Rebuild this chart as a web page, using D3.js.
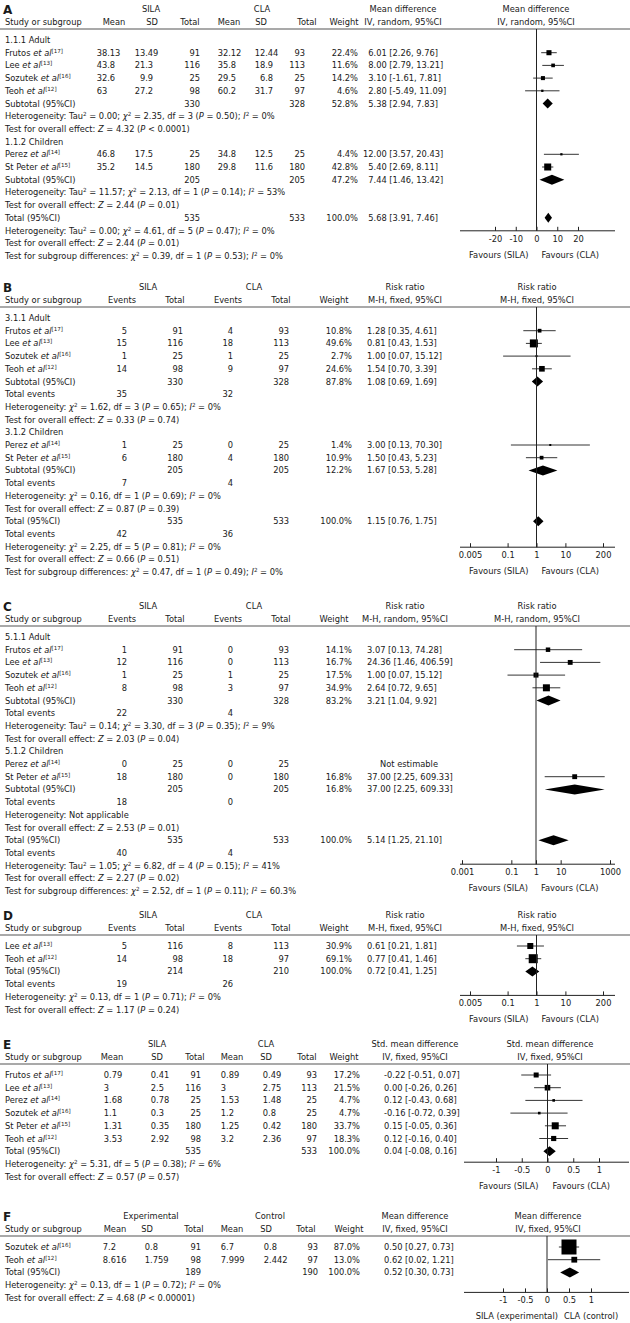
<!DOCTYPE html>
<html>
<head>
<meta charset="utf-8">
<script src="https://cdn.jsdelivr.net/npm/d3@7"></script>
<style>
  body { margin: 0; background: #fff; }
  svg text { font-family: "DejaVu Sans", Verdana, sans-serif; font-size: 8.3px; fill: #1a1a1a; }
  svg text.lbl { font-size: 12px; font-weight: bold; }
</style>
</head>
<body>
<div id="chart"></div>
<script>
// ---- data ----

// A: mean difference, IV random
// name, ref, SILA mean, SD, total, CLA mean, SD, total, weight, MD, lo, hi, subgroup
const studiesA = [
  ["Frutos", 17, 38.13, 13.49, 91, 32.12, 12.44, 93, 22.4, 6.01, 2.26, 9.76, 0],
  ["Lee", 13, 43.8, 21.3, 116, 35.8, 18.9, 113, 11.6, 8.00, 2.79, 13.21, 0],
  ["Sozutek", 16, 32.6, 9.9, 25, 29.5, 6.8, 25, 14.2, 3.10, -1.61, 7.81, 0],
  ["Teoh", 12, 63, 27.2, 98, 60.2, 31.7, 97, 4.6, 2.80, -5.49, 11.09, 0],
  ["Perez", 14, 46.8, 17.5, 25, 34.8, 12.5, 25, 4.4, 12.00, 3.57, 20.43, 1],
  ["St Peter", 15, 35.2, 14.5, 180, 29.8, 11.6, 180, 42.8, 5.40, 2.69, 8.11, 1]
];
const groupsA = ["1.1.1 Adult", "1.1.2 Children"];
const subtotalsA = [[330, 328, 52.8, 5.38, 2.94, 7.83], [205, 205, 47.2, 7.44, 1.46, 13.42]];
const subStatsA = [
  ["Heterogeneity: Tau^2 = 0.00; _χ_^2 = 2.35, df = 3 (_P_ = 0.50); _I_^2 = 0%",
   "Test for overall effect: _Z_ = 4.32 (_P_ < 0.0001)"],
  ["Heterogeneity: Tau^2 = 11.57; _χ_^2 = 2.13, df = 1 (_P_ = 0.14); _I_^2 = 53%",
   "Test for overall effect: _Z_ = 2.44 (_P_ = 0.01)"]
];
const totalA = [535, 533, 100.0, 5.68, 3.91, 7.46];
const totalStatsA = [
  "Heterogeneity: Tau^2 = 0.00; _χ_^2 = 4.61, df = 5 (_P_ = 0.47); _I_^2 = 0%",
  "Test for overall effect: _Z_ = 2.44 (_P_ = 0.01)",
  "Test for subgroup differences: _χ_^2 = 0.39, df = 1 (_P_ = 0.53); _I_^2 = 0%"
];
const ticksA = [-20, -10, 0, 10, 20];

// B: risk ratio, M-H fixed
// name, ref, SILA events, total, CLA events, total, weight, RR, lo, hi, subgroup
const studiesB = [
  ["Frutos", 17, 5, 91, 4, 93, 10.8, 1.28, 0.35, 4.61, 0],
  ["Lee", 13, 15, 116, 18, 113, 49.6, 0.81, 0.43, 1.53, 0],
  ["Sozutek", 16, 1, 25, 1, 25, 2.7, 1.00, 0.07, 15.12, 0],
  ["Teoh", 12, 14, 98, 9, 97, 24.6, 1.54, 0.70, 3.39, 0],
  ["Perez", 14, 1, 25, 0, 25, 1.4, 3.00, 0.13, 70.30, 1],
  ["St Peter", 15, 6, 180, 4, 180, 10.9, 1.50, 0.43, 5.23, 1]
];
const groupsB = ["3.1.1 Adult", "3.1.2 Children"];
const subtotalsB = [[330, 328, 87.8, 1.08, 0.69, 1.69], [205, 205, 12.2, 1.67, 0.53, 5.28]];
const subEventsB = [[35, 32], [7, 4]];
const subStatsB = [
  ["Heterogeneity: _χ_^2 = 1.62, df = 3 (_P_ = 0.65); _I_^2 = 0%",
   "Test for overall effect: _Z_ = 0.33 (_P_ = 0.74)"],
  ["Heterogeneity: _χ_^2 = 0.16, df = 1 (_P_ = 0.69); _I_^2 = 0%",
   "Test for overall effect: _Z_ = 0.87 (_P_ = 0.39)"]
];
const totalB = [535, 533, 100.0, 1.15, 0.76, 1.75];
const totalEventsB = [42, 36];
const totalStatsB = [
  "Heterogeneity: _χ_^2 = 2.25, df = 5 (_P_ = 0.81); _I_^2 = 0%",
  "Test for overall effect: _Z_ = 0.66 (_P_ = 0.51)",
  "Test for subgroup differences: _χ_^2 = 0.47, df = 1 (_P_ = 0.49); _I_^2 = 0%"
];
const ticksB = [0.005, 0.1, 1, 10, 200];

// C: risk ratio, M-H random
const studiesC = [
  ["Frutos", 17, 1, 91, 0, 93, 14.1, 3.07, 0.13, 74.28, 0],
  ["Lee", 13, 12, 116, 0, 113, 16.7, 24.36, 1.46, 406.59, 0],
  ["Sozutek", 16, 1, 25, 1, 25, 17.5, 1.00, 0.07, 15.12, 0],
  ["Teoh", 12, 8, 98, 3, 97, 34.9, 2.64, 0.72, 9.65, 0],
  ["Perez", 14, 0, 25, 0, 25, null, null, null, null, 1],
  ["St Peter", 15, 18, 180, 0, 180, 16.8, 37.00, 2.25, 609.33, 1]
];
const groupsC = ["5.1.1 Adult", "5.1.2 Children"];
const subtotalsC = [[330, 328, 83.2, 3.21, 1.04, 9.92], [205, 205, 16.8, 37.00, 2.25, 609.33]];
const subEventsC = [[22, 4], [18, 0]];
const subStatsC = [
  ["Heterogeneity: Tau^2 = 0.14; _χ_^2 = 3.30, df = 3 (_P_ = 0.35); _I_^2 = 9%",
   "Test for overall effect: _Z_ = 2.03 (_P_ = 0.04)"],
  ["Heterogeneity: Not applicable",
   "Test for overall effect: _Z_ = 2.53 (_P_ = 0.01)"]
];
const totalC = [535, 533, 100.0, 5.14, 1.25, 21.10];
const totalEventsC = [40, 4];
const totalStatsC = [
  "Heterogeneity: Tau^2 = 1.05; _χ_^2 = 6.82, df = 4 (_P_ = 0.15); _I_^2 = 41%",
  "Test for overall effect: _Z_ = 2.27 (_P_ = 0.02)",
  "Test for subgroup differences: _χ_^2 = 2.52, df = 1 (_P_ = 0.11); _I_^2 = 60.3%"
];
const ticksC = [0.001, 0.1, 1, 10, 1000];

// D: risk ratio, M-H fixed
const studiesD = [
  ["Lee", 13, 5, 116, 8, 113, 30.9, 0.61, 0.21, 1.81, 0],
  ["Teoh", 12, 14, 98, 18, 97, 69.1, 0.77, 0.41, 1.46, 0]
];
const totalD = [214, 210, 100.0, 0.72, 0.41, 1.25];
const totalEventsD = [19, 26];
const totalStatsD = [
  "Heterogeneity: _χ_^2 = 0.13, df = 1 (_P_ = 0.71); _I_^2 = 0%",
  "Test for overall effect: _Z_ = 1.17 (_P_ = 0.24)"
];
const ticksD = [0.005, 0.1, 1, 10, 200];

// E: std. mean difference, IV fixed
const studiesE = [
  ["Frutos", 17, 0.79, 0.41, 91, 0.89, 0.49, 93, 17.2, -0.22, -0.51, 0.07, 0],
  ["Lee", 13, 3, 2.5, 116, 3, 2.75, 113, 21.5, 0.00, -0.26, 0.26, 0],
  ["Perez", 14, 1.68, 0.78, 25, 1.53, 1.48, 25, 4.7, 0.12, -0.43, 0.68, 0],
  ["Sozutek", 16, 1.1, 0.3, 25, 1.2, 0.8, 25, 4.7, -0.16, -0.72, 0.39, 0],
  ["St Peter", 15, 1.31, 0.35, 180, 1.25, 0.42, 180, 33.7, 0.15, -0.05, 0.36, 0],
  ["Teoh", 12, 3.53, 2.92, 98, 3.2, 2.36, 97, 18.3, 0.12, -0.16, 0.40, 0]
];
const totalE = [535, 533, 100.0, 0.04, -0.08, 0.16];
const totalStatsE = [
  "Heterogeneity: _χ_^2 = 5.31, df = 5 (_P_ = 0.38); _I_^2 = 6%",
  "Test for overall effect: _Z_ = 0.57 (_P_ = 0.57)"
];
const ticksE = [-1, -0.5, 0, 0.5, 1];

// F: mean difference, IV fixed
const studiesF = [
  ["Sozutek", 16, 7.2, 0.8, 91, 6.7, 0.8, 93, 87.0, 0.50, 0.27, 0.73, 0],
  ["Teoh", 12, 8.616, 1.759, 98, 7.999, 2.442, 97, 13.0, 0.62, 0.02, 1.21, 0]
];
const totalF = [189, 190, 100.0, 0.52, 0.30, 0.73];
const totalStatsF = [
  "Heterogeneity: _χ_^2 = 0.13, df = 1 (_P_ = 0.72); _I_^2 = 0%",
  "Test for overall effect: _Z_ = 4.68 (_P_ < 0.00001)"
];
const ticksF = [-1, -0.5, 0, 0.5, 1];

// ---- layout ----
const ROW = 12.7;
const svg = d3.select("#chart").append("svg")
  .attr("width", 630)
  .attr("height", 1323);

const contCols = [[107.2, "dec"], [145.2, "dec"], [200, "end"], [228.2, "dec"], [265.2, "dec"], [305, "end"]];
const binCols = [[127, "end"], [183, "end"], [233, "end"], [289, "end"]];
const binHeads = [["Events", 122], ["Total", 175], ["Events", 228], ["Total", 281], ["Weight", 334]];

// turn "_x_" into italics and "^2" / "^{..}" into superscripts
function rich(text, str) {
  let up = false;
  str.split(/(_[^_]+_|\^\{[^}]*\}|\^.)/).filter(s => s).forEach(p => {
    const ts = text.append("tspan");
    if (p[0] === "^") {
      ts.attr("dy", -3).style("font-size", "5.6px").text(p[1] === "{" ? p.slice(2, -1) : p.slice(1));
      up = true;
      return;
    }
    if (up) { ts.attr("dy", 3); up = false; }
    if (p[0] === "_") ts.style("font-style", "italic").text(p.slice(1, -1));
    else ts.text(p);
  });
}

function decText(g, x, y, v) {
  const s = String(v);
  const t = g.append("text").attr("y", y).text(s);
  const i = s.indexOf(".");
  const w = t.node().getSubStringLength(0, i < 0 ? s.length : i);
  t.attr("x", x - w);
}

function buildRows(P) {
  const rows = [];
  const groups = P.groups.length ? P.groups : [null];
  groups.forEach((name, gi) => {
    if (name) rows.push({ type: "group", text: name });
    P.studies.filter(s => s.g === gi).forEach(s => rows.push(Object.assign({ type: "study" }, s)));
    if (P.subtotals) {
      rows.push({ type: "pooled", label: "Subtotal (95%CI)", v: P.subtotals[gi] });
      if (P.subEvents) rows.push({ type: "events", v: P.subEvents[gi] });
      P.subStats[gi].forEach(t => rows.push({ type: "note", text: t }));
    }
  });
  rows.push({ type: "pooled", label: "Total (95%CI)", v: P.total });
  if (P.totalEvents) rows.push({ type: "events", v: P.totalEvents });
  P.totalStats.forEach(t => rows.push({ type: "note", text: t }));
  return rows;
}

const contStudy = r => ({ name: r[0], ref: r[1], cells: r.slice(2, 8), w: r[8], est: r[9], lo: r[10], hi: r[11], g: r[12] });
const binStudy = r => ({ name: r[0], ref: r[1], cells: r.slice(2, 6), w: r[6], est: r[7], lo: r[8], hi: r[9], g: r[10] });

function drawPanel(L, P) {
  const g = svg.append("g");
  const first = L.y0 + 31;
  const lineY = L.y0 + 20;
  const base = 3;

  g.append("text").attr("class", "lbl").attr("x", 3).attr("y", L.y0 + 5).text(L.label);
  L.heads.forEach(h => g.append("text").attr("x", h[1]).attr("y", L.y0 + base)
    .attr("text-anchor", "middle").text(h[0]));
  g.append("text").attr("x", 5).attr("y", L.y0 + 12.5 + base).text("Study or subgroup");
  L.colHeads.forEach(h => g.append("text").attr("x", h[1]).attr("y", L.y0 + 12.5 + base)
    .attr("text-anchor", "middle").text(h[0]));
  [L.effCenter, L.plotCenter].forEach(cx => {
    L.effHead.forEach((t, i) => g.append("text").attr("x", cx).attr("y", L.y0 + i * 12.5 + base)
      .attr("text-anchor", "middle").text(t));
  });
  g.append("line").attr("x1", 0).attr("x2", 630).attr("y1", lineY).attr("y2", lineY)
    .attr("stroke", "#8c8c8c").attr("stroke-width", 1.3);

  const x = (L.log ? d3.scaleLog() : d3.scaleLinear()).domain(L.domain).range(L.range);
  const size = d3.scaleSqrt()
    .domain([0, d3.max(P.studies, s => s.w)])
    .range([0, L.maxSide]);

  const rows = buildRows(P);
  let totalY = 0;
  rows.forEach((r, i) => {
    const y = first + i * ROW;
    const ty = y + base;
    if (r.type === "group" || r.type === "note") {
      rich(g.append("text").attr("x", 5).attr("y", ty), r.text);
      return;
    }
    if (r.type === "events") {
      g.append("text").attr("x", 5).attr("y", ty).text("Total events");
      r.v.forEach((v, k) => g.append("text").attr("x", L.eCols[k]).attr("y", ty)
        .attr("text-anchor", "end").text(v));
      return;
    }
    let est, lo, hi, w;
    if (r.type === "study") {
      rich(g.append("text").attr("x", 5).attr("y", ty), `${r.name} _et al_^{[${r.ref}]}`);
      r.cells.forEach((v, k) => {
        const c = L.cols[k];
        if (c[1] === "dec") decText(g, c[0], ty, v);
        else g.append("text").attr("x", c[0]).attr("y", ty).attr("text-anchor", "end").text(v);
      });
      ({ est, lo, hi, w } = r);
    } else {
      g.append("text").attr("x", 5).attr("y", ty).text(r.label);
      [r.v[0], r.v[1]].forEach((v, k) => g.append("text").attr("x", L.nCols[k]).attr("y", ty)
        .attr("text-anchor", "end").text(v));
      [, , w, est, lo, hi] = r.v;
      if (r.label.startsWith("Total")) totalY = y;
    }
    if (est === null) {
      g.append("text").attr("x", L.effCenter + 4).attr("y", ty).attr("text-anchor", "middle").text("Not estimable");
      return;
    }
    g.append("text").attr("x", L.wCol).attr("y", ty).attr("text-anchor", "end").text(w.toFixed(1) + "%");
    const eff = `${est.toFixed(2)} [${lo.toFixed(2)}, ${hi.toFixed(2)}]`;
    if (L.effDec) decText(g, L.effX, ty, eff);
    else g.append("text").attr("x", L.effX).attr("y", ty).text(eff);

    if (r.type === "study") {
      g.append("line").attr("x1", x(lo)).attr("x2", x(hi)).attr("y1", y).attr("y2", y)
        .attr("stroke", "#000").attr("stroke-width", 0.8);
      const s = Math.max(2, size(w));
      g.append("rect").attr("x", x(est) - s / 2).attr("y", y - s / 2)
        .attr("width", s).attr("height", s).attr("fill", "#000");
    } else {
      const h = 5;
      g.append("path")
        .attr("d", `M${x(lo)},${y}L${x(est)},${y - h}L${x(hi)},${y}L${x(est)},${y + h}Z`)
        .attr("fill", "#000");
    }
  });

  // axis
  const axisY = totalY + L.axisGap;
  const zero = x(L.log ? 1 : 0);
  g.append("line").attr("x1", zero).attr("x2", zero).attr("y1", lineY).attr("y2", axisY)
    .attr("stroke", "#222").attr("stroke-width", 1);
  g.append("line").attr("x1", L.axisLine[0]).attr("x2", L.axisLine[1]).attr("y1", axisY).attr("y2", axisY)
    .attr("stroke", "#222").attr("stroke-width", 1);
  const ax = g.append("g").attr("transform", `translate(0,${axisY})`)
    .call(d3.axisBottom(x).tickValues(L.ticks).tickSizeInner(-4).tickSizeOuter(0).tickPadding(5)
      .tickFormat(d => String(d)));
  ax.select(".domain").remove();
  ax.attr("font-family", null).attr("font-size", null);
  ax.selectAll("text").attr("fill", null);
  ax.selectAll("line").attr("stroke", "#222");
  L.favours.forEach(f => g.append("text").attr("x", zero + f[2]).attr("y", axisY + 24 + base)
    .attr("text-anchor", f[1]).text(f[0]));
}

drawPanel({
  label: "A", y0: 9,
  heads: [["SILA", 151], ["CLA", 262]],
  colHeads: [["Mean", 114], ["SD", 152], ["Total", 190], ["Mean", 229], ["SD", 261], ["Total", 307], ["Weight", 344]],
  effHead: ["Mean difference", "IV, random, 95%CI"], effCenter: 403, plotCenter: 536,
  cols: contCols, nCols: [200, 305], wCol: 358, effX: 373.5, effDec: true,
  log: false, domain: [-20, 20], range: [495, 578], axisLine: [460, 615], ticks: ticksA,
  maxSide: 7, axisGap: 13,
  favours: [["Favours (SILA)", "end", -8], ["Favours (CLA)", "start", 5]]
}, {
  studies: studiesA.map(contStudy), groups: groupsA, subtotals: subtotalsA, subStats: subStatsA,
  total: totalA, totalStats: totalStatsA
});

drawPanel({
  label: "B", y0: 287,
  heads: [["SILA", 148], ["CLA", 254]],
  colHeads: binHeads,
  effHead: ["Risk ratio", "M-H, fixed, 95%CI"], effCenter: 405, plotCenter: 537,
  cols: binCols, nCols: [183, 289], eCols: [127, 233], wCol: 352, effX: 367,
  log: true, domain: [0.005, 200], range: [470, 603], axisLine: [460, 615], ticks: ticksB,
  maxSide: 8, axisGap: 26,
  favours: [["Favours (SILA)", "end", -8], ["Favours (CLA)", "start", 5]]
}, {
  studies: studiesB.map(binStudy), groups: groupsB, subtotals: subtotalsB, subEvents: subEventsB,
  subStats: subStatsB, total: totalB, totalEvents: totalEventsB, totalStats: totalStatsB
});

drawPanel({
  label: "C", y0: 606,
  heads: [["SILA", 148], ["CLA", 254]],
  colHeads: binHeads,
  effHead: ["Risk ratio", "M-H, random, 95%CI"], effCenter: 405, plotCenter: 537,
  cols: binCols, nCols: [183, 289], eCols: [127, 233], wCol: 352, effX: 367,
  log: true, domain: [0.001, 1000], range: [462, 610], axisLine: [460, 615], ticks: ticksC,
  maxSide: 7, axisGap: 24,
  favours: [["Favours (SILA)", "end", -8], ["Favours (CLA)", "start", 5]]
}, {
  studies: studiesC.map(binStudy), groups: groupsC, subtotals: subtotalsC, subEvents: subEventsC,
  subStats: subStatsC, total: totalC, totalEvents: totalEventsC, totalStats: totalStatsC
});

drawPanel({
  label: "D", y0: 915,
  heads: [["SILA", 148], ["CLA", 254]],
  colHeads: binHeads,
  effHead: ["Risk ratio", "M-H, fixed, 95%CI"], effCenter: 405, plotCenter: 537,
  cols: binCols, nCols: [183, 289], eCols: [127, 233], wCol: 352, effX: 367,
  log: true, domain: [0.005, 200], range: [470, 603], axisLine: [460, 615], ticks: ticksD,
  maxSide: 9, axisGap: 24,
  favours: [["Favours (SILA)", "end", -8], ["Favours (CLA)", "start", 5]]
}, {
  studies: studiesD.map(binStudy), groups: [], total: totalD, totalEvents: totalEventsD,
  totalStats: totalStatsD
});

drawPanel({
  label: "E", y0: 1044,
  heads: [["SILA", 157], ["CLA", 266]],
  colHeads: [["Mean", 112], ["SD", 157], ["Total", 195], ["Mean", 232], ["SD", 266], ["Total", 307], ["Weight", 344]],
  effHead: ["Std. mean difference", "IV, fixed, 95%CI"], effCenter: 415, plotCenter: 550,
  cols: [[109, "dec"], [156, "dec"], [201, "end"], [226, "dec"], [268, "dec"], [317, "end"]],
  nCols: [201, 317], wCol: 360, effX: 384,
  log: false, domain: [-1, 1], range: [496, 599], axisLine: [464, 629], ticks: ticksE,
  maxSide: 7, axisGap: 11,
  favours: [["Favours (SILA)", "end", -9], ["Favours (CLA)", "start", 5]]
}, {
  studies: studiesE.map(contStudy), groups: [], total: totalE, totalStats: totalStatsE
});

drawPanel({
  label: "F", y0: 1216,
  heads: [["Experimental", 151], ["Control", 270]],
  colHeads: [["Mean", 115], ["SD", 147], ["Total", 194], ["Mean", 232], ["SD", 266], ["Total", 306], ["Weight", 349]],
  effHead: ["Mean difference", "IV, fixed, 95%CI"], effCenter: 415, plotCenter: 548,
  cols: [[108, "dec"], [150, "dec"], [201, "end"], [226, "dec"], [269, "dec"], [318, "end"]],
  nCols: [201, 318], wCol: 360, effX: 384,
  log: false, domain: [-1, 1], range: [503, 591], axisLine: [464, 629], ticks: ticksF,
  maxSide: 15, axisGap: 20,
  favours: [["SILA (experimental)", "end", 11], ["CLA (control)", "start", 17]]
}, {
  studies: studiesF.map(contStudy), groups: [], total: totalF, totalStats: totalStatsF
});
</script>
</body>
</html>
